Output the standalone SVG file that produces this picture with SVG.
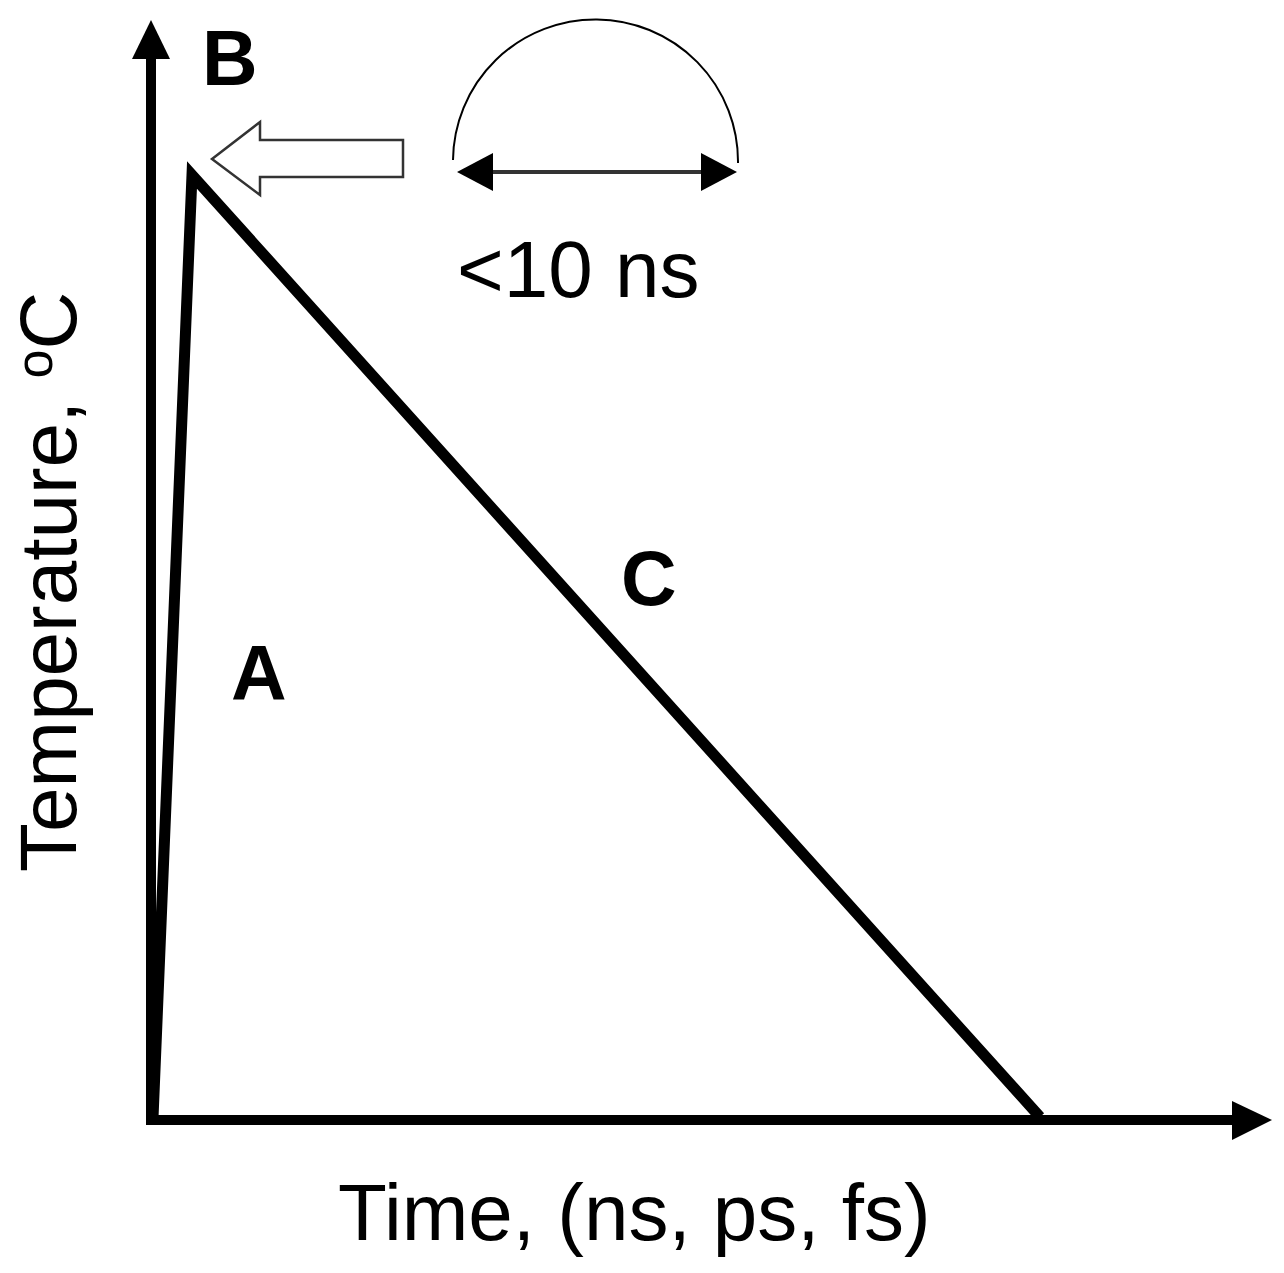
<svg xmlns="http://www.w3.org/2000/svg" width="1284" height="1273" viewBox="0 0 1284 1273">
<style>
.lbl{font-family:"Liberation Sans",Arial,sans-serif;fill:#000}
.bold{font-weight:bold;font-size:77px}
.reg{font-size:80px}
</style>
<rect width="1284" height="1273" fill="#fff"/>
<g id="connectors">
  <g id="y-axis">
    <line x1="151" y1="1124" x2="151" y2="55" stroke="#000" stroke-width="10"/>
    <polygon points="151,20 132,59 170,59" fill="#000"/>
  </g>
  <g id="x-axis">
    <line x1="146" y1="1120" x2="1236" y2="1120" stroke="#000" stroke-width="10"/>
    <polygon points="1272,1120 1232,1101 1232,1140" fill="#000"/>
  </g>
  <polyline id="profile" points="153,1118 192,175 1040,1117" fill="none" stroke="#000" stroke-width="11" stroke-linejoin="miter" stroke-miterlimit="20"/>
  <polygon id="hollow-arrow" points="212,159 260,122 260,140 403,140 403,177 260,177 260,195" fill="#fff" stroke="#333" stroke-width="2.5"/>
  <path id="arc" d="M453,160 A142.5,142 0 0 1 738,163" fill="none" stroke="#000" stroke-width="2"/>
  <g id="double-arrow">
    <line x1="490" y1="172" x2="704" y2="172" stroke="#333" stroke-width="4"/>
    <polygon points="457,172 493,153 493,191" fill="#000"/>
    <polygon points="737,172 701,153 701,191" fill="#000"/>
  </g>
</g>
<g id="label-B"><text class="lbl bold" x="202" y="85">B</text></g>
<g id="label-A"><text class="lbl bold" x="231" y="700">A</text></g>
<g id="label-C"><text class="lbl bold" x="621" y="605">C</text></g>
<g id="label-duration"><text class="lbl reg" x="457" y="297" font-size="78">&lt;10 ns</text></g>
<g id="label-x"><text class="lbl reg" x="338" y="1240" font-size="81">Time, (ns, ps, fs)</text></g>
<g id="label-y"><text class="lbl reg" transform="translate(76,872) rotate(-90)">Temperature, <tspan font-size="52" dy="-24">o</tspan><tspan dy="24">C</tspan></text></g>
</svg>
